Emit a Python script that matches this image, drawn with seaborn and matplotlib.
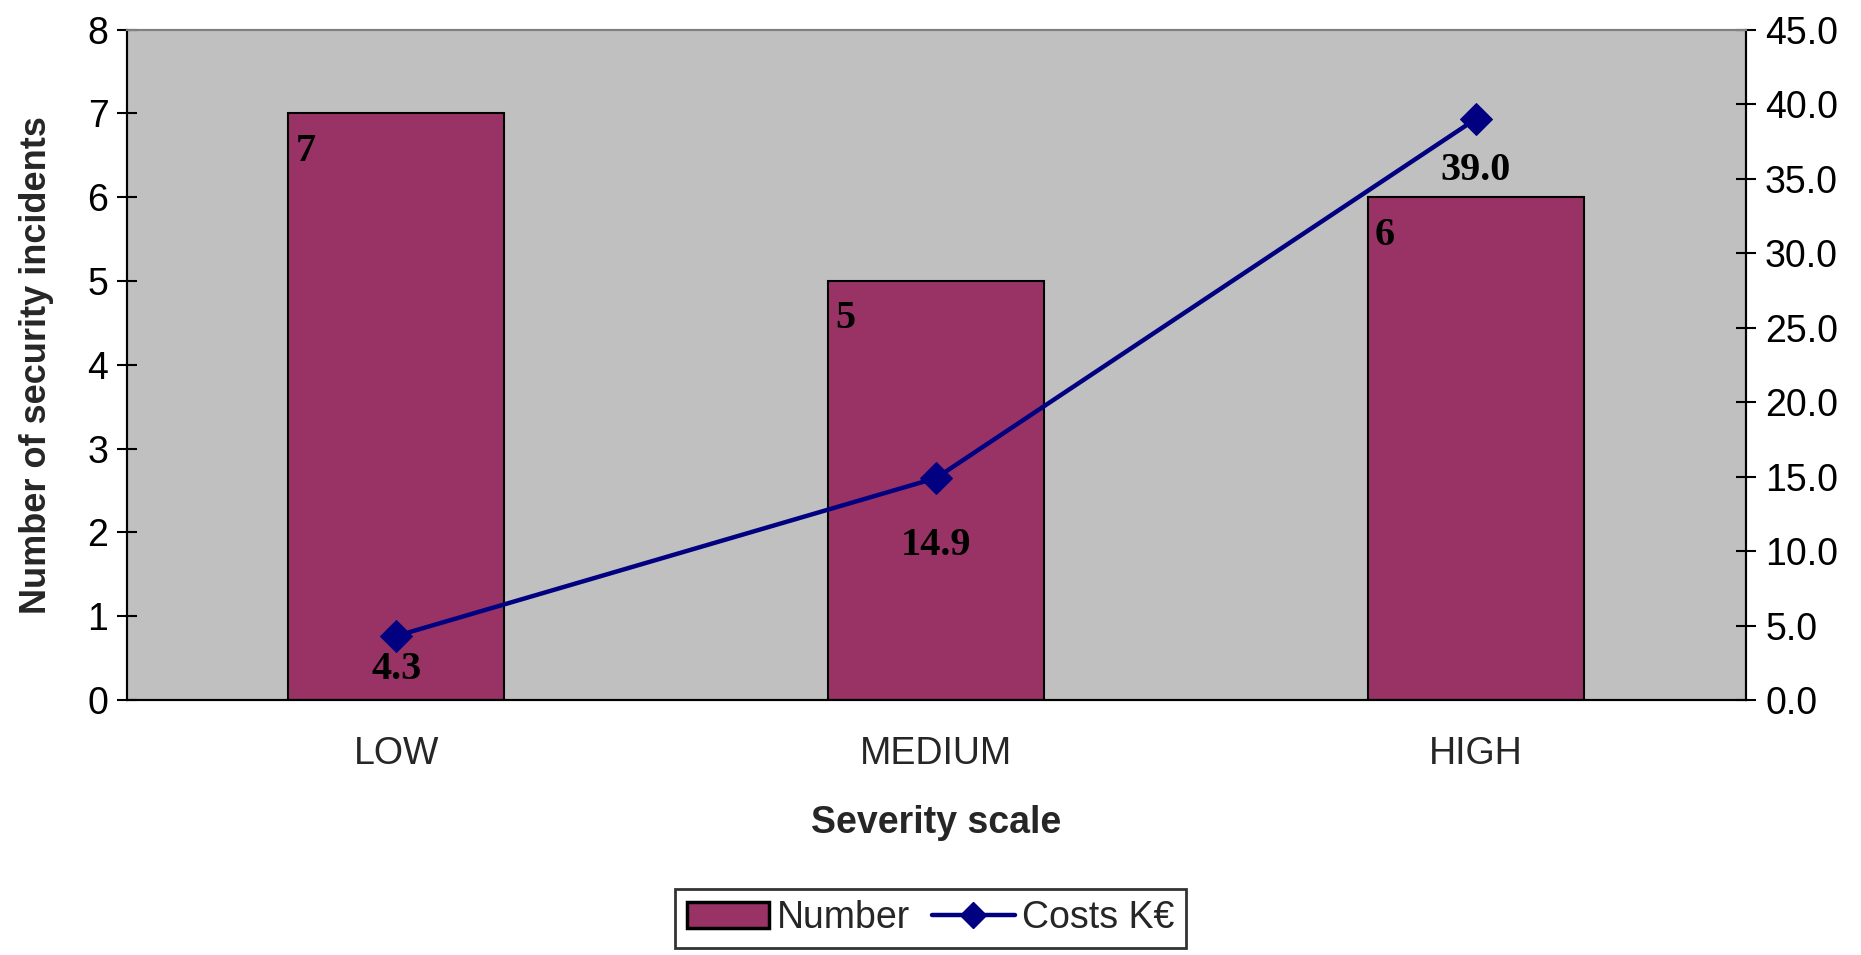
import numpy as np
import pandas as pd
import matplotlib
matplotlib.use("Agg")
import matplotlib.pyplot as plt
import seaborn as sns
from matplotlib.lines import Line2D
from matplotlib.patches import Patch
from matplotlib.ticker import FixedLocator, FormatStrFormatter

# ---- data ----
categories = ["LOW", "MEDIUM", "HIGH"]
numbers = [7, 5, 6]
costs = [4.3, 14.9, 39.0]
left_ticks = [0, 1, 2, 3, 4, 5, 6, 7, 8]
right_ticks = [0, 5, 10, 15, 20, 25, 30, 35, 40, 45]

# ---- style ----
bar_color = "#993366"
line_color = "#000080"
bg_color = "#C0C0C0"
sans = ["Liberation Sans", "DejaVu Sans"]
serif = ["Liberation Serif", "DejaVu Serif"]
cost_label_offsets = [-11, -35, -24]  # points below marker

sns.set_style("white")
plt.rcParams["font.family"] = sans

fig = plt.figure(figsize=(18.61, 9.55), dpi=100)
ax = fig.add_axes([0.068, 0.267, 0.938 - 0.068, 0.969 - 0.267])
ax.set_facecolor(bg_color)

df = pd.DataFrame({"Severity": categories, "Number": numbers, "Costs": costs})
sns.barplot(data=df, x="Severity", y="Number", ax=ax, color=bar_color,
            saturation=1, width=0.4, edgecolor="black", linewidth=1.5)

ax.set_xlim(-0.5, len(categories) - 0.5)
ax.set_ylim(left_ticks[0], left_ticks[-1])
ax.set_yticks(left_ticks)
ax.set_yticklabels([str(t) for t in left_ticks])

# bar labels (top-left inside bars)
for i, v in enumerate(numbers):
    ax.annotate(str(v), xy=(i - 0.2, v), xytext=(5, -14), textcoords="offset points",
                ha="left", va="top", fontsize=29, fontweight="bold", family=serif,
                color="black")

# secondary axis line
ax2 = ax.twinx()
xpos = np.arange(len(categories))
sns.lineplot(x=xpos, y=costs, ax=ax2, color=line_color, linewidth=3.2,
             marker="D", markersize=16, markeredgecolor=line_color, legend=False)
ax2.set_ylim(right_ticks[0], right_ticks[-1])
ax2.yaxis.set_major_locator(FixedLocator(right_ticks))
ax2.yaxis.set_major_formatter(FormatStrFormatter("%.1f"))
ax2.set_ylabel("")
for i, c in enumerate(costs):
    ax2.annotate(f"{c:.1f}", xy=(i, c), xytext=(0, cost_label_offsets[i]),
                 textcoords="offset points", ha="center", va="top", fontsize=29,
                 fontweight="bold", family=serif, color="black")

# spines
for a in (ax, ax2):
    for s in a.spines.values():
        s.set_visible(True)
        s.set_color("black")
        s.set_linewidth(1.5)
    a.spines["top"].set_color("#808080")

# ticks
ax.tick_params(axis="y", direction="inout", length=14, width=1.5, pad=6,
               labelsize=27, colors="black")
ax.tick_params(axis="x", which="major", length=0, pad=26, labelsize=27)
ax.set_xticks(np.arange(-0.5, len(categories), 1.0), minor=True)
ax.tick_params(axis="x", which="minor", direction="out", length=12, width=1.5)
ax2.tick_params(axis="y", direction="inout", length=14, width=1.5, pad=7,
                labelsize=27, colors="black")

ax.set_xlabel("Severity scale", fontsize=27, fontweight="bold", labelpad=24)
ax.set_ylabel("Number of security incidents", fontsize=26, fontweight="bold", labelpad=24)

# legend
handles = [
    Patch(facecolor=bar_color, edgecolor="black", linewidth=2.5, label="Number"),
    Line2D([0], [0], color=line_color, linewidth=3.2, marker="D", markersize=13,
           label="Costs K€"),
]
leg = fig.legend(handles=handles, loc="lower center", bbox_to_anchor=(0.5, -0.012),
                 ncol=2, frameon=True, fontsize=27, handlelength=2.2,
                 handletextpad=0.2, columnspacing=0.6, borderpad=0.3,
                 fancybox=False)
leg.get_frame().set_edgecolor("black")
leg.get_frame().set_linewidth(2)

fig.savefig("out.png", dpi=100, facecolor="white")
